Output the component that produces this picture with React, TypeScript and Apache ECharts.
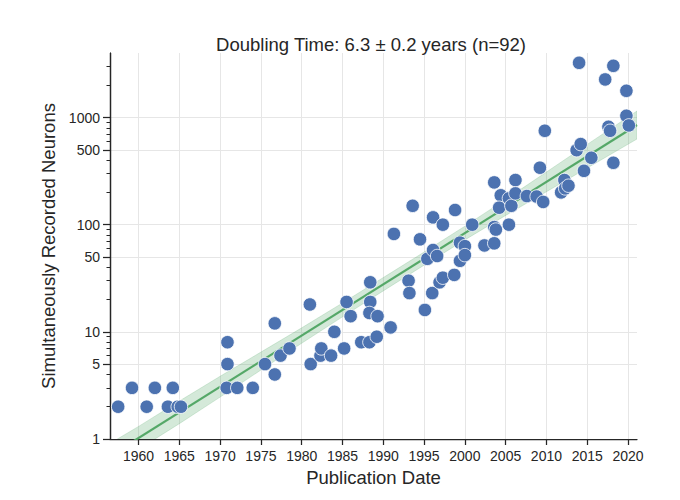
import React, { useEffect, useRef } from "react";
import * as echarts from "echarts";

const pubYear = [
  1957.5, 1959.2, 1961.0, 1962.0, 1963.6, 1964.2, 1964.8, 1965.2, 1970.8, 1970.9,
  1970.9, 1972.1, 1974.0, 1975.5, 1976.7, 1976.7, 1977.4, 1978.5, 1981.0, 1981.1,
  1982.3, 1982.4, 1983.6, 1984.0, 1985.2, 1985.5, 1986.0, 1987.3, 1988.3, 1988.4,
  1988.4, 1988.3, 1989.3, 1989.2, 1990.9, 1991.3, 1993.1, 1993.2, 1993.6, 1994.5,
  1995.1, 1995.4, 1996.1, 1996.6, 1996.1, 1997.3, 1996.0, 1996.9, 1997.3, 1998.7,
  1998.8, 1999.4, 1999.4, 2000.0, 2000.0, 2000.9, 2002.4, 2003.6, 2003.6, 2003.8,
  2003.6, 2004.4, 2004.2, 2005.4, 2005.4, 2005.7, 2006.2, 2006.2, 2007.6, 2008.8,
  2009.2, 2009.6, 2009.8, 2011.8, 2012.2, 2012.3, 2012.7, 2013.7, 2014.2, 2014.0,
  2014.6, 2015.5, 2017.2, 2018.2, 2017.6, 2017.8, 2018.2, 2019.8, 2019.8, 2020.1,
];
const neurons = [
  2, 3, 2, 3, 2, 3, 2, 2, 3, 5,
  8, 3, 3, 5, 12, 4, 6, 7, 18, 5,
  6, 7, 6, 10, 7, 19, 14, 8, 8, 29,
  19, 15, 14, 9, 11, 82, 30, 23, 150, 73,
  16, 48, 58, 51, 117, 100, 23, 29, 32, 34,
  137, 46, 68, 63, 52, 100, 64, 67, 95, 90,
  248, 188, 144, 100, 176, 150, 261, 196, 185, 183,
  340, 163, 752, 200, 261, 218, 231, 496, 565, 3240,
  318, 421, 2266, 3036, 819, 752, 378, 1775, 1038, 844,
];

// regression line end points
const fitYears = [1956.5, 2021.1];
const fitValues = [0.695, 851];

// confidence band edges
const bandYears = [1956.5, 1960, 1965, 1970, 1975, 1980, 1985, 1990, 1995, 2000, 2005, 2010, 2015, 2021.1];
const bandLower = [0.531, 0.8, 1.39, 2.46, 4.4, 7.83, 13.8, 24.1, 41.9, 72.1, 122, 203, 338, 630];
const bandUpper = [0.91, 1.31, 2.26, 3.85, 6.47, 10.9, 18.6, 32.1, 55.5, 96.8, 172, 310, 561, 1151];

const xTicks = [1960, 1965, 1970, 1975, 1980, 1985, 1990, 1995, 2000, 2005, 2010, 2015, 2020];
const yLabels = [1, 5, 10, 50, 100, 500, 1000];
const yMinorTicks = [
  2, 3, 4, 6, 7, 8, 9, 20, 30, 40, 60, 70, 80, 90,
  200, 300, 400, 600, 700, 800, 900, 2000, 3000,
];

const TITLE = "Doubling Time: 6.3 \u00b1 0.2 years (n=92)";
const FONT = "'Liberation Sans', Arial, sans-serif";
const INK = "#262626";
const GRIDC = "#e6e6e6";

export default function App() {
  const ref = useRef<HTMLDivElement>(null);
  useEffect(() => {
    if (!ref.current) return;
    const chart = echarts.init(ref.current, undefined, { renderer: "svg" });
    const scatterData = pubYear.map((y, i) => [y, neurons[i]]);
    const fitData = fitYears.map((y, i) => [y, fitValues[i]]);

    const yBase = {
      type: "log" as const,
      logBase: 10,
      min: 1,
      max: 4000,
      position: "left" as const,
    };

    chart.setOption({
      animation: false,
      backgroundColor: "#ffffff",
      textStyle: { fontFamily: FONT },
      title: {
        text: TITLE,
        left: 366,
        top: 30,
        textAlign: "center",
        textStyle: { fontFamily: FONT, fontSize: 18.5, fontWeight: "normal", color: INK },
      },
      grid: { left: 110, right: 43, top: 53, bottom: 61 },
      xAxis: {
        type: "value",
        min: 1956.5,
        max: 2021.1,
        name: "Publication Date",
        nameLocation: "middle",
        nameGap: 27,
        nameTextStyle: { fontFamily: FONT, fontSize: 18.5, color: INK },
        axisLine: { show: true, lineStyle: { color: INK, width: 1.25 } },
        axisTick: { show: true, customValues: xTicks, length: 6, lineStyle: { color: INK, width: 1.25 } },
        axisLabel: {
          customValues: xTicks,
          fontFamily: FONT,
          fontSize: 14,
          color: INK,
          margin: 10,
          formatter: (v: number) => String(Math.round(v)),
        },
        splitLine: { show: true, lineStyle: { color: GRIDC, width: 1 } },
      },
      yAxis: [
        {
          ...yBase,
          name: "Simultaneously Recorded Neurons",
          nameLocation: "middle",
          nameGap: 35,
          nameTextStyle: { fontFamily: FONT, fontSize: 18.5, color: INK },
          axisLine: { show: true, lineStyle: { color: INK, width: 1.25 } },
          axisTick: { show: true, customValues: yLabels, length: 7, lineStyle: { color: INK, width: 1.25 } },
          axisLabel: {
            customValues: yLabels,
            fontFamily: FONT,
            fontSize: 14,
            color: INK,
            margin: 10,
            formatter: (v: number) => String(Math.round(v)),
          },
          splitLine: { show: true, lineStyle: { color: GRIDC, width: 1 } },
        },
        {
          ...yBase,
          axisLine: { show: true, lineStyle: { color: INK, width: 1.25 } },
          axisTick: { show: true, customValues: yMinorTicks, length: 3.5, lineStyle: { color: INK, width: 1 } },
          axisLabel: { show: false },
          splitLine: { show: false },
        },
      ],
      series: [
        {
          type: "custom",
          name: "band",
          clip: true,
          silent: true,
          z: 2,
          data: [0],
          renderItem: (_params: any, api: any) => {
            const up = bandYears.map((y, i) => api.coord([y, bandUpper[i]]));
            const lo = bandYears.map((y, i) => api.coord([y, bandLower[i]])).reverse();
            return {
              type: "polygon",
              shape: { points: up.concat(lo) },
              style: { fill: "rgba(85,168,104,0.25)", stroke: "rgba(85,168,104,0.35)", lineWidth: 0.6 },
            };
          },
        },
        {
          type: "line",
          name: "fit",
          data: fitData,
          showSymbol: false,
          symbol: "none",
          clip: true,
          silent: true,
          z: 3,
          lineStyle: { color: "#55a868", width: 2.2 },
        },
        {
          type: "scatter",
          name: "papers",
          data: scatterData,
          symbol: "circle",
          symbolSize: 13.5,
          z: 4,
          itemStyle: { color: "#4c72b0", borderColor: "#ffffff", borderWidth: 0.8, opacity: 1 },
        },
      ],
    });
    return () => chart.dispose();
  }, []);
  return (
    <div
      ref={ref}
      style={{ position: "fixed", left: 0, top: 0, width: 680, height: 500, background: "#fff" }}
    />
  );
}
